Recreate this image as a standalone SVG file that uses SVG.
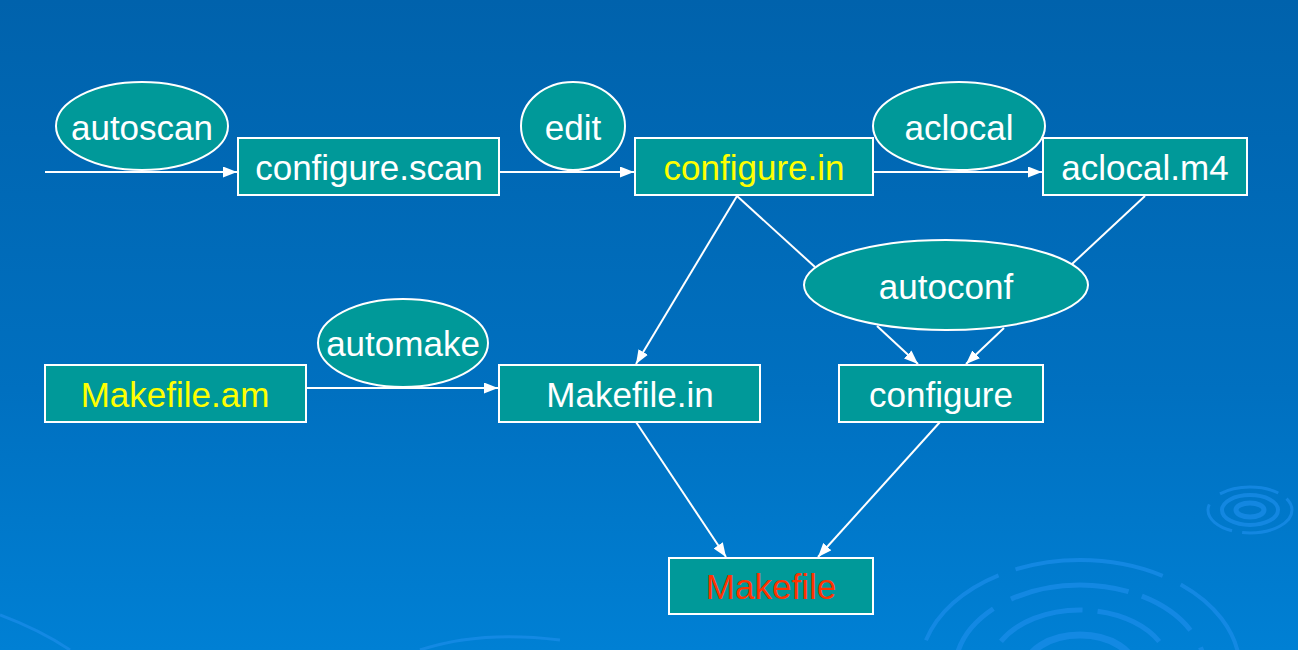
<svg xmlns="http://www.w3.org/2000/svg" width="1298" height="650" viewBox="0 0 1298 650">
<defs>
<linearGradient id="bg" x1="0" y1="0" x2="0" y2="1">
<stop offset="0" stop-color="#0062ac"/>
<stop offset="0.6" stop-color="#0070c0"/>
<stop offset="1" stop-color="#0080d4"/>
</linearGradient>
<marker id="ah" viewBox="0 0 14 11" refX="14" refY="5.5" markerWidth="14" markerHeight="11" markerUnits="userSpaceOnUse" orient="auto">
<path d="M0,0 L14,5.5 L0,11 Z" fill="#ffffff"/>
</marker>
</defs>
<style>
.box{fill:#009999;stroke:#ffffff;stroke-width:2}
.ell{fill:#009999;stroke:#ffffff;stroke-width:2}
.t{font-family:"Liberation Sans",Arial,sans-serif;font-size:35px;fill:#ffffff;text-anchor:middle}
.y{fill:#ffff00}
.r{fill:#ff3300}
.c{stroke:#ffffff;stroke-width:2;fill:none}
.rip{fill:none;stroke:#1a8ce8;stroke-opacity:0.75}
</style>
<rect x="0" y="0" width="1298" height="650" fill="url(#bg)"/>
<g id="ripples">
<ellipse class="rip" cx="1250" cy="510" rx="14" ry="7" stroke-width="5"/>
<ellipse class="rip" cx="1250" cy="510" rx="28" ry="15" stroke-width="4"/>
<ellipse class="rip" cx="1250" cy="510" rx="42" ry="23" stroke-width="3" stroke-dasharray="60 10 40 15"/>
<ellipse class="rip" cx="1080" cy="670" rx="55" ry="35" stroke-width="7"/>
<ellipse class="rip" cx="1080" cy="670" rx="90" ry="60" stroke-width="5" stroke-dasharray="70 12 90 15"/>
<ellipse class="rip" cx="1080" cy="670" rx="125" ry="85" stroke-width="5" stroke-dasharray="120 14 60 20"/>
<ellipse class="rip" cx="1080" cy="670" rx="160" ry="110" stroke-width="4" stroke-dasharray="150 20 100 18"/>
<path class="rip" d="M0,615 Q40,630 70,650" stroke-width="3"/>
<path class="rip" d="M420,650 Q480,630 560,640" stroke-width="3"/>
</g>
<g id="connectors">
<line class="c" x1="45" y1="172" x2="237" y2="172" marker-end="url(#ah)"/>
<line class="c" x1="499" y1="172" x2="634" y2="172" marker-end="url(#ah)"/>
<line class="c" x1="873" y1="172" x2="1042" y2="172" marker-end="url(#ah)"/>
<line class="c" x1="306" y1="388" x2="498" y2="388" marker-end="url(#ah)"/>
<line class="c" x1="737" y1="196" x2="636" y2="364" marker-end="url(#ah)"/>
<line class="c" x1="737" y1="196" x2="815" y2="267"/>
<line class="c" x1="1145" y1="196" x2="1072" y2="264"/>
<line class="c" x1="877" y1="326" x2="918" y2="364" marker-end="url(#ah)"/>
<line class="c" x1="1004" y1="328" x2="966" y2="364" marker-end="url(#ah)"/>
<line class="c" x1="636" y1="422" x2="726" y2="557" marker-end="url(#ah)"/>
<line class="c" x1="940" y1="422" x2="818" y2="557" marker-end="url(#ah)"/>
</g>
<g id="autoscan"><ellipse class="ell" cx="142" cy="126" rx="86" ry="44"/><text class="t" x="142" y="140">autoscan</text></g>
<g id="configure_scan"><rect class="box" x="238" y="138" width="261" height="57"/><text class="t" x="369" y="180">configure.scan</text></g>
<g id="edit"><ellipse class="ell" cx="573" cy="126" rx="52" ry="44"/><text class="t" x="573" y="140">edit</text></g>
<g id="configure_in"><rect class="box" x="635" y="138" width="238" height="57"/><text class="t y" x="754" y="180">configure.in</text></g>
<g id="aclocal"><ellipse class="ell" cx="959" cy="126" rx="86" ry="44"/><text class="t" x="959" y="140">aclocal</text></g>
<g id="aclocal_m4"><rect class="box" x="1043" y="138" width="204" height="57"/><text class="t" x="1145" y="180">aclocal.m4</text></g>
<g id="autoconf"><ellipse class="ell" cx="946" cy="285" rx="142" ry="45"/><text class="t" x="946" y="299">autoconf</text></g>
<g id="automake"><ellipse class="ell" cx="403" cy="343" rx="85" ry="44"/><text class="t" x="403" y="356">automake</text></g>
<g id="Makefile_am"><rect class="box" x="45" y="365" width="261" height="57"/><text class="t y" x="175" y="407">Makefile.am</text></g>
<g id="Makefile_in"><rect class="box" x="499" y="365" width="261" height="57"/><text class="t" x="630" y="407">Makefile.in</text></g>
<g id="configure"><rect class="box" x="839" y="365" width="204" height="57"/><text class="t" x="941" y="407">configure</text></g>
<g id="Makefile"><rect class="box" x="669" y="558" width="204" height="56"/><text class="t r" x="771" y="599">Makefile</text></g>
</svg>
